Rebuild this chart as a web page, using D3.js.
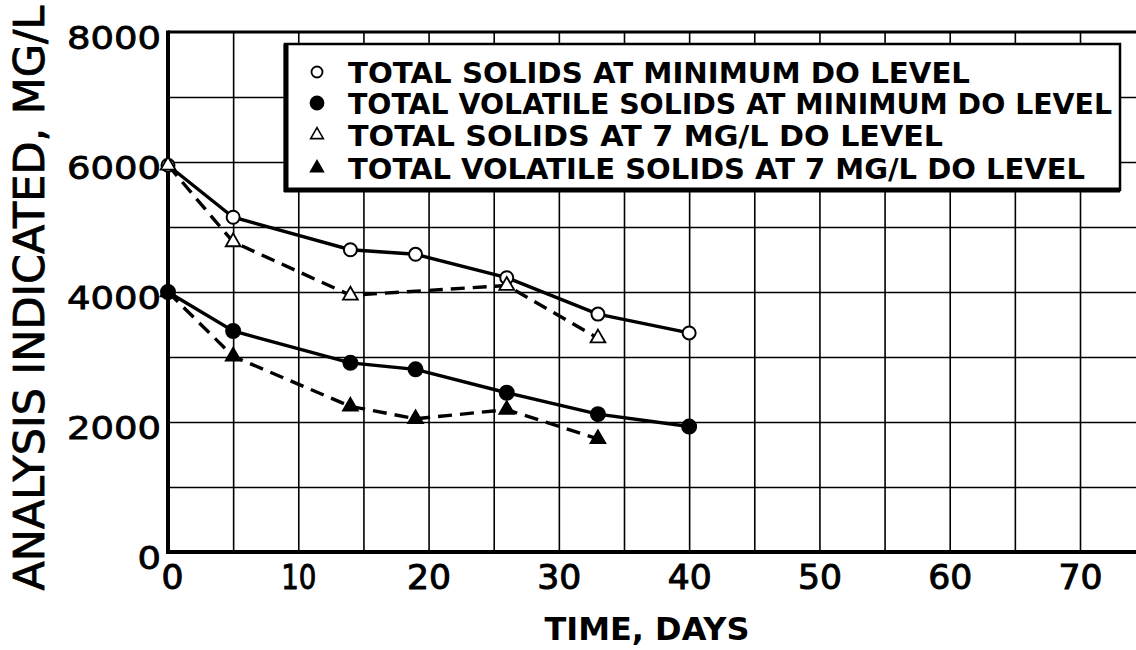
<!DOCTYPE html>
<html>
<head>
<meta charset="utf-8">
<script src="https://cdn.jsdelivr.net/npm/d3@7"></script>
<style>
  body { margin: 0; background: #fff; }
  svg { display: block; }
  text { font-family: "DejaVu Sans", sans-serif; fill: #000; }
</style>
</head>
<body>
<script>
// values
const daysMin = [0, 5, 14, 19, 26, 33, 40]
const tsMin = [5950, 5150, 4650, 4580, 4220, 3660, 3370]
const tvsMin = [4000, 3400, 2910, 2810, 2450, 2120, 1930]

const daysTs7 = [0, 5, 14, 26, 33]
const ts7 = [5950, 4770, 3950, 4100, 3290]

const daysTvs7 = [0, 5, 14, 19, 26, 33]
const tvs7 = [4000, 3010, 2240, 2050, 2190, 1740]

const xTicks = [0, 10, 20, 30, 40, 50, 60, 70]
const yTicks = [0, 2000, 4000, 6000, 8000]

const legendLabels = [
    "TOTAL SOLIDS AT MINIMUM DO LEVEL",
    "TOTAL VOLATILE SOLIDS AT MINIMUM DO LEVEL",
    "TOTAL SOLIDS  AT 7 MG/L DO LEVEL",
    "TOTAL VOLATILE SOLIDS AT 7 MG/L DO LEVEL"
]

let width = 1136
let height = 650
let plotLeft = 168, plotTop = 32, plotBottom = 552

let svg = d3.select("body").append("svg")
    .attr("width", width)
    .attr("height", height)

svg.append("rect").attr("width", width).attr("height", height).attr("fill", "#fff")

const x = d3.scaleLinear().domain([0, 70]).range([plotLeft, 1080])
const y = d3.scaleLinear().domain([0, 8000]).range([plotBottom, plotTop])

// grid
svg.append("g")
    .attr("transform", "translate(0," + plotBottom + ")")
    .call(d3.axisBottom(x).tickValues(d3.range(5, 80, 5)).tickSize(-(plotBottom - plotTop)).tickFormat(""))
    .call(g => g.select(".domain").remove())
    .call(g => g.selectAll("line").attr("stroke", "#000").attr("stroke-width", 1.6))

svg.append("g")
    .attr("transform", "translate(" + plotLeft + ",0)")
    .call(d3.axisLeft(y).tickValues(d3.range(1000, 8000, 1000)).tickSize(-(width - plotLeft)).tickFormat(""))
    .call(g => g.select(".domain").remove())
    .call(g => g.selectAll("line").attr("stroke", "#000").attr("stroke-width", 1.6))

// frame
svg.append("line").attr("x1", plotLeft).attr("x2", width).attr("y1", plotTop).attr("y2", plotTop)
    .attr("stroke", "#000").attr("stroke-width", 3)
svg.append("line").attr("x1", plotLeft).attr("x2", plotLeft).attr("y1", plotTop - 1.5).attr("y2", plotBottom + 2)
    .attr("stroke", "#000").attr("stroke-width", 4)
svg.append("line").attr("x1", plotLeft - 2).attr("x2", width).attr("y1", plotBottom).attr("y2", plotBottom)
    .attr("stroke", "#000").attr("stroke-width", 4)

// tick labels
const charW = (s, w) => s.split("").reduce((a, c) => a + (c === "1" ? w * 0.6 : w), 0)

svg.append("g")
    .attr("transform", "translate(" + plotLeft + ",0)")
    .call(d3.axisLeft(y).tickValues(yTicks).tickSize(0).tickPadding(7).tickFormat(d => String(d)))
    .call(g => g.select(".domain").remove())
    .call(g => g.selectAll("text")
        .attr("dy", "0.5em")
        .style("font-size", "32px")
        .style("font-family", "DejaVu Sans")
        .attr("fill", "#000")
        .attr("stroke", "#000")
        .attr("stroke-width", 0.8)
        .attr("textLength", d => charW(String(d), 23.5))
        .attr("lengthAdjust", "spacingAndGlyphs"))

svg.append("g")
    .attr("transform", "translate(0," + plotBottom + ")")
    .call(d3.axisBottom(x).tickValues(xTicks).tickSize(0).tickPadding(13).tickFormat(d => String(d)))
    .call(g => g.select(".domain").remove())
    .call(g => g.selectAll("text")
        .attr("dx", d => d === 0 ? 4 : 0)
        .style("font-size", "34px")
        .style("font-family", "DejaVu Sans")
        .attr("fill", "#000")
        .attr("stroke", "#000")
        .attr("stroke-width", 1)
        .attr("textLength", d => charW(String(d), 22))
        .attr("lengthAdjust", "spacingAndGlyphs"))

// axis titles
svg.append("text")
    .attr("x", 647).attr("y", 640)
    .attr("text-anchor", "middle")
    .style("font-size", "32px")
    .style("font-weight", "bold")
    .attr("textLength", 205)
    .attr("lengthAdjust", "spacingAndGlyphs")
    .text("TIME, DAYS")

svg.append("text")
    .attr("transform", "translate(44,298) rotate(-90)")
    .attr("text-anchor", "middle")
    .style("font-size", "42px")
    .attr("stroke", "#000")
    .attr("stroke-width", 0.8)
    .attr("textLength", 585)
    .attr("lengthAdjust", "spacingAndGlyphs")
    .text("ANALYSIS  INDICATED, MG/L")

// series
const solid = d3.line().x(d => x(d[0])).y(d => y(d[1]))
const pairs = (xs, ys) => xs.map((d, i) => [d, ys[i]])

const series = [
    { pts: pairs(daysMin, tsMin), dash: null, mark: "circle", fill: "#fff" },
    { pts: pairs(daysMin, tvsMin), dash: null, mark: "circle", fill: "#000" },
    { pts: pairs(daysTs7, ts7), dash: "14,8", mark: "tri", fill: "#fff" },
    { pts: pairs(daysTvs7, tvs7), dash: "14,8", mark: "tri", fill: "#000" }
]

series.forEach(s => {
    svg.append("path")
        .attr("d", solid(s.pts))
        .attr("fill", "none")
        .attr("stroke", "#000")
        .attr("stroke-width", 3.4)
        .attr("stroke-dasharray", s.dash)
})

const tri = d3.symbol().type(d3.symbolTriangle).size(95)

series.forEach(s => {
    let g = svg.append("g")
    if (s.mark === "circle") {
        g.selectAll("circle").data(s.pts).enter().append("circle")
            .attr("cx", d => x(d[0])).attr("cy", d => y(d[1]))
            .attr("r", s.fill === "#000" ? 7 : 6.5)
            .attr("fill", s.fill).attr("stroke", "#000").attr("stroke-width", 2)
    } else {
        g.selectAll("path").data(s.pts).enter().append("path")
            .attr("d", tri)
            .attr("transform", d => "translate(" + x(d[0]) + "," + y(d[1]) + ")")
            .attr("fill", s.fill).attr("stroke", "#000").attr("stroke-width", 1.8)
    }
})

// legend
const lg = svg.append("g")
lg.append("rect")
    .attr("x", 285).attr("y", 44).attr("width", 835).attr("height", 146)
    .attr("fill", "#fff").attr("stroke", "#000").attr("stroke-width", 2.5)
lg.append("line").attr("x1", 286).attr("x2", 286).attr("y1", 44).attr("y2", 192)
    .attr("stroke", "#000").attr("stroke-width", 5)
lg.append("line").attr("x1", 284).attr("x2", 1120).attr("y1", 190).attr("y2", 190)
    .attr("stroke", "#000").attr("stroke-width", 5)

const rowY = [72, 103, 135, 168]
const rowLen = [622, 764, 595, 737]
const legendMarks = ["circle", "circle", "tri", "tri"]
const legendFill = ["#fff", "#000", "#fff", "#000"]

legendLabels.forEach((t, i) => {
    if (legendMarks[i] === "circle") {
        lg.append("circle").attr("cx", 317).attr("cy", rowY[i])
            .attr("r", legendFill[i] === "#000" ? 6.5 : 5.5)
            .attr("fill", legendFill[i]).attr("stroke", "#000").attr("stroke-width", 1.8)
    } else {
        lg.append("path").attr("d", d3.symbol().type(d3.symbolTriangle).size(70))
            .attr("transform", "translate(317," + rowY[i] + ")")
            .attr("fill", legendFill[i]).attr("stroke", "#000").attr("stroke-width", 1.6)
    }
    lg.append("text")
        .attr("x", 348).attr("y", rowY[i] + 10.5)
        .style("font-size", "29px")
        .style("font-weight", "bold")
        .attr("textLength", rowLen[i])
        .attr("lengthAdjust", "spacingAndGlyphs")
        .text(t)
})
</script>
</body>
</html>
